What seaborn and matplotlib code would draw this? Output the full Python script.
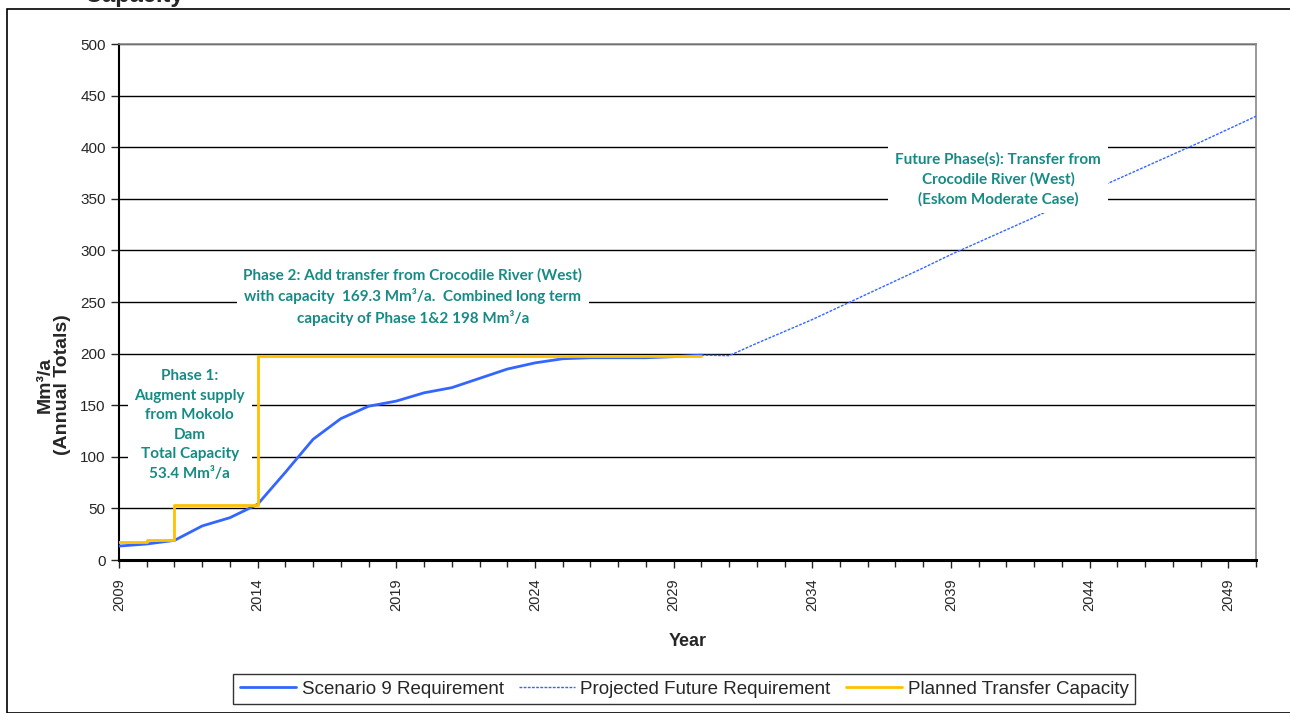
import numpy as np
import pandas as pd
import matplotlib
matplotlib.use('Agg')
import matplotlib.pyplot as plt
import seaborn as sns
from matplotlib.patches import Rectangle
from matplotlib.ticker import MultipleLocator

# Scenario 9 requirement (Mm3/a)
req_years = list(range(2009, 2031))
req_values = [13.5, 15.5, 19, 33, 41, 54, 85, 117, 137, 149, 154, 162, 167, 176,
              185, 191, 195, 196, 196, 196, 197, 198.5]

# projected future requirement
proj_years = [2030, 2031, 2032, 2034, 2036, 2038, 2039, 2040, 2042, 2044, 2046, 2048, 2050]
proj_values = [198.5, 198, 210, 233, 258, 283, 296, 308, 332, 357, 381, 405, 430]

# planned transfer capacity (step)
cap_years = [2009, 2010, 2011, 2014, 2030]
cap_values = [17, 19.5, 53.4, 198, 198]

x_ticks = list(range(2009, 2050, 5))

req_df = pd.DataFrame({'Year': req_years, 'Mm3': req_values})
proj_df = pd.DataFrame({'Year': proj_years, 'Mm3': proj_values})
cap_df = pd.DataFrame({'Year': cap_years, 'Mm3': cap_values})

sns.set_style('white')
plt.rcParams['font.family'] = ['Liberation Sans', 'DejaVu Sans']

fig = plt.figure(figsize=(12.9, 7.13), dpi=100)
ax = fig.add_axes([119 / 1290, 1 - 560 / 713, (1256 - 119) / 1290, (560 - 44) / 713])

blue = '#3366FF'
yellow = '#FFC000'
teal = '#168B85'

sns.lineplot(data=proj_df, x='Year', y='Mm3', ax=ax, color=blue, lw=1.0,
             linestyle=(0, (2, 1)), label='Projected Future Requirement', zorder=3)
sns.lineplot(data=req_df, x='Year', y='Mm3', ax=ax, color=blue, lw=2.0,
             label='Scenario 9 Requirement', zorder=4)
sns.lineplot(data=cap_df, x='Year', y='Mm3', ax=ax, color=yellow, lw=2.0,
             drawstyle='steps-post', label='Planned Transfer Capacity', zorder=5)

ax.set_xlim(2009, 2050)
ax.set_ylim(0, 500)
ax.yaxis.set_major_locator(MultipleLocator(50))
ax.set_xticks(x_ticks)
ax.set_xticklabels([str(t) for t in x_ticks], rotation=90, fontsize=10.5)
ax.xaxis.set_minor_locator(MultipleLocator(1))
ax.tick_params(axis='y', labelsize=11, length=6, width=1, direction='out', left=True)
ax.tick_params(axis='x', which='major', length=6, width=1, direction='out', bottom=True, pad=7)
ax.tick_params(axis='x', which='minor', length=5, width=1, direction='out', bottom=True)

ax.grid(axis='y', color='black', lw=1, zorder=1)
ax.set_axisbelow(True)
for s in ['top', 'right']:
    ax.spines[s].set_color('#888888')
    ax.spines[s].set_linewidth(1.2)
ax.spines['left'].set_color('black')
ax.spines['left'].set_linewidth(1.5)
ax.spines['bottom'].set_color('black')
ax.spines['bottom'].set_linewidth(2.2)

ax.set_xlabel('Year', fontsize=13, fontweight='bold', labelpad=16)
ax.set_ylabel('Mm³/a\n(Annual Totals)', fontsize=14, fontweight='bold',
              linespacing=1.0)
ax.yaxis.set_label_coords(-48 / 1137, (560 - 385) / 516)

box = dict(boxstyle='square,pad=0.45', facecolor='white', edgecolor='none')
tfont = dict(family=['Lato', 'DejaVu Sans'], fontweight='bold', color=teal, fontsize=11,
             ha='center', va='center', zorder=6, bbox=box)
ax.text(2011.55, 131, 'Phase 1:\nAugment supply\nfrom Mokolo\nDam\nTotal Capacity\n53.4 Mm³/a',
        linespacing=1.5, **tfont)
ax.text(2019.6, 255, 'Phase 2: Add transfer from Crocodile River (West)\n'
        'with capacity  169.3 Mm³/a.  Combined long term\ncapacity of Phase 1&2 198 Mm³/a',
        linespacing=1.42, **tfont)
ax.text(2040.7, 369, 'Future Phase(s): Transfer from\nCrocodile River (West)\n(Eskom Moderate Case)',
        linespacing=1.45, **tfont)

handles, labels = ax.get_legend_handles_labels()
order = [1, 0, 2]
leg = fig.legend([handles[i] for i in order], [labels[i] for i in order],
                 loc='center', bbox_to_anchor=(684 / 1290, 1 - 689 / 713), ncol=3,
                 fontsize=13.5, frameon=True, fancybox=False, edgecolor='black',
                 handlelength=3.0, columnspacing=0.8, handletextpad=0.3,
                 borderpad=0.35)
leg.get_frame().set_linewidth(1.0)
ax.get_legend().remove()

fig.patches.append(Rectangle((7 / 1290, 0.0), 1.2, 1 - 9 / 713, transform=fig.transFigure,
                             fill=False, edgecolor='black', lw=1.2))
fig.text(85 / 1290, 1 + 4 / 713, 'Capacity', fontsize=17, fontweight='bold', va='center')

fig.savefig('out.png', dpi=100)
